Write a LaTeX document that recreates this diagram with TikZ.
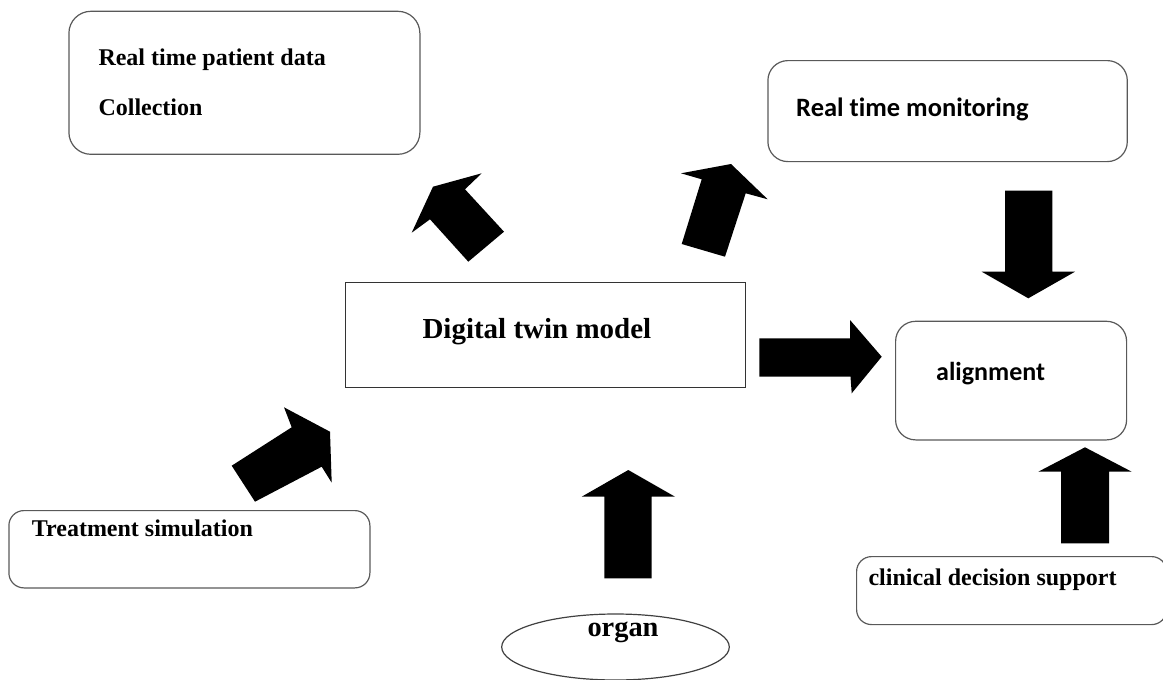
\documentclass[tikz,border=0pt]{standalone}
\usepackage{fontspec}
\setmainfont{Liberation Serif}
\newfontfamily\calfont[Ligatures=NoCommon]{Carlito}
\usetikzlibrary{shapes.geometric}
\tikzset{
  rbox/.style={draw=black!65, line width=1.2pt, inner sep=0pt, anchor=north west},
  sqbox/.style={draw=black!80, line width=1pt, inner sep=0pt, anchor=north west},
  sertext/.style={inner sep=0pt, anchor=base west, font=\fontsize{24}{28}\selectfont\bfseries},
  caltext/.style={inner sep=0pt, anchor=base west, font=\calfont\fontsize{26.5}{30}\selectfont\bfseries},
  blockarrow/.style={fill=black, draw=none},
}
\begin{document}
\begin{tikzpicture}[x=1pt,y=-1pt]
\useasboundingbox (0,0) rectangle (1163,680);
% boxes
\node[rbox, rounded corners=22pt, minimum width=351pt, minimum height=143pt] (collect) at (68.3,10.7) {};
\node[sertext] (collectA) at (98.3,65.7) {Real time patient data};
\node[sertext] (collectB) at (98.3,115) {Collection};

\node[rbox, rounded corners=20pt, minimum width=359.4pt, minimum height=101pt] (monitor) at (767.3,60) {};
\node[caltext] (monitorT) at (796,116.7) {Real time monitoring};

\node[sqbox, minimum width=400pt, minimum height=104.4pt] (twin) at (345,282.3) {};
\node[inner sep=0pt, anchor=base west, font=\fontsize{29}{33}\selectfont\bfseries] (twinT) at (422.3,338.3) {Digital twin model};

\node[rbox, rounded corners=20pt, minimum width=231pt, minimum height=118.6pt] (align) at (895,320.7) {};
\node[caltext, font=\calfont\fontsize{26}{30}\selectfont\bfseries] (alignT) at (936,380.7) {alignment};

\node[rbox, rounded corners=15pt, minimum width=361pt, minimum height=77.3pt] (treat) at (8.3,510) {};
\node[sertext] (treatT) at (31.7,536) {Treatment simulation};

\node[rbox, rounded corners=15pt, minimum width=310pt, minimum height=68pt] (clin) at (856,556) {};
\node[sertext] (clinT) at (868.3,585.7) {clinical decision support};

\node[draw=black!75, line width=1.2pt, ellipse, inner sep=0pt, minimum width=227.6pt, minimum height=66pt] (organ) at (615.5,647) {};
\node[inner sep=0pt, anchor=base west, font=\fontsize{28.4}{32}\selectfont\bfseries] (organT) at (587.3,636) {organ};

% block arrows
\fill[blockarrow] (411.7,232.7) -- (433,186.7) -- (481.7,173.3) -- (465,189.3) -- (504,231.7) -- (468.3,261.7) -- (430,219.3) -- cycle;
\fill[blockarrow] (681,173.3) -- (731,164) -- (767.7,199.3) -- (745.7,193.3) -- (725,256.7) -- (681.7,244) -- (701.7,179.3) -- cycle;
\fill[blockarrow] (1005,190.7) -- (1052.3,190.7) -- (1052.3,271.7) -- (1075,271.7) -- (1028.3,298.3) -- (981.7,271.7) -- (1005,271.7) -- cycle;
\fill[blockarrow] (759.3,338.3) -- (850,338.3) -- (850,320) -- (881.7,356.7) -- (851.7,393.3) -- (850.5,376.7) -- (759.3,376.7) -- cycle;
\fill[blockarrow] (231.7,465.7) -- (291.7,427.3) -- (284,407.3) -- (330,431.7) -- (331.7,482.7) -- (321.7,466.7) -- (255,501.7) -- cycle;
\fill[blockarrow] (628.3,470) -- (675,496.7) -- (651.7,496.7) -- (651.7,578.3) -- (604.3,578.3) -- (604.3,496.7) -- (581.7,496.7) -- cycle;
\fill[blockarrow] (1085,447.3) -- (1131.7,471.7) -- (1109,471.7) -- (1109,543.3) -- (1061,543.3) -- (1061,471.7) -- (1038.3,471.7) -- cycle;
\end{tikzpicture}
\end{document}
